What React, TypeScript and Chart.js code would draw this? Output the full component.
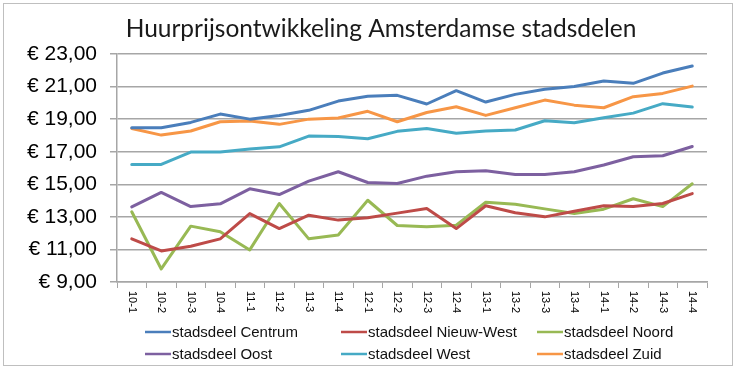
import React, { useEffect, useRef } from "react";
import { Chart, registerables } from "chart.js";

Chart.register(...registerables);

const categories = [
  "10-1", "10-2", "10-3", "10-4",
  "11-1", "11-2", "11-3", "11-4",
  "12-1", "12-2", "12-3", "12-4",
  "13-1", "13-2", "13-3", "13-4",
  "14-1", "14-2", "14-3", "14-4",
];

const centrum = [18.47, 18.47, 18.8, 19.31, 19.0, 19.23, 19.54, 20.11, 20.4, 20.46, 19.93, 20.75, 20.05, 20.52, 20.83, 21.0, 21.34, 21.2, 21.83, 22.26];
const nieuwWest = [11.65, 10.91, 11.2, 11.65, 13.2, 12.28, 13.1, 12.8, 12.94, 13.23, 13.51, 12.28, 13.68, 13.25, 13.0, 13.35, 13.68, 13.63, 13.82, 14.43];
const noord = [13.31, 9.8, 12.43, 12.08, 10.97, 13.82, 11.65, 11.89, 14.02, 12.47, 12.39, 12.49, 13.9, 13.78, 13.49, 13.2, 13.47, 14.11, 13.63, 15.03];
const oost = [13.61, 14.5, 13.63, 13.8, 14.72, 14.37, 15.19, 15.77, 15.11, 15.05, 15.5, 15.77, 15.83, 15.6, 15.6, 15.77, 16.18, 16.69, 16.75, 17.32];
const west = [16.22, 16.22, 16.98, 16.98, 17.16, 17.3, 17.96, 17.94, 17.8, 18.25, 18.43, 18.14, 18.27, 18.33, 18.9, 18.78, 19.09, 19.37, 19.95, 19.74];
const zuid = [18.43, 18.02, 18.27, 18.84, 18.88, 18.68, 19.0, 19.07, 19.48, 18.84, 19.41, 19.76, 19.23, 19.7, 20.17, 19.86, 19.7, 20.38, 20.58, 21.03];

const seriesNames = [
  "stadsdeel Centrum",
  "stadsdeel Nieuw-West",
  "stadsdeel Noord",
  "stadsdeel Oost",
  "stadsdeel West",
  "stadsdeel Zuid",
];
const seriesValues = [centrum, nieuwWest, noord, oost, west, zuid];
const seriesColors = ["#4a7ebb", "#be4b48", "#98b954", "#7d60a0", "#46aac5", "#f79646"];

const titleText = "Huurprijsontwikkeling Amsterdamse stadsdelen";
const yMin = 9;
const yMax = 23;
const yStep = 2;

const GRID = "#a6a6a6";

const decorPlugin = {
  id: "decor",
  beforeDraw(chart: any) {
    const ctx = chart.ctx;
    ctx.save();
    ctx.fillStyle = "#ffffff";
    ctx.fillRect(0, 0, chart.width, chart.height);
    ctx.strokeStyle = "#bfbfbf";
    ctx.lineWidth = 1;
    ctx.strokeRect(3.5, 3.5, 729, 362);
    ctx.restore();
  },
  afterDraw(chart: any) {
    const ctx = chart.ctx;
    const xs = chart.scales.x;
    ctx.save();
    // title
    ctx.fillStyle = "#1a1a1a";
    ctx.font = "24.5px 'Lato'";
    ctx.textAlign = "center";
    ctx.textBaseline = "middle";
    ctx.fillText(titleText, 381, 29);

    // rotated x labels
    ctx.font = "11px 'Liberation Sans'";
    ctx.fillStyle = "#000000";
    categories.forEach((c, i) => {
      const x = xs.getPixelForValue(i);
      ctx.save();
      ctx.translate(x, 291);
      ctx.rotate(Math.PI / 2);
      ctx.textAlign = "left";
      ctx.textBaseline = "middle";
      ctx.fillText(c, 0, 0);
      ctx.restore();
    });

    // legend
    const colX = [145, 341, 537];
    const rowY = [332, 354];
    ctx.font = "15px 'Liberation Sans'";
    ctx.textAlign = "left";
    ctx.textBaseline = "middle";
    chart.data.datasets.forEach((ds: any, i: number) => {
      const cx = colX[i % 3];
      const cy = rowY[Math.floor(i / 3)];
      ctx.strokeStyle = ds.borderColor;
      ctx.lineWidth = 2.5;
      ctx.beginPath();
      ctx.moveTo(cx, cy);
      ctx.lineTo(cx + 26, cy);
      ctx.stroke();
      ctx.fillStyle = "#111111";
      ctx.fillText(ds.label, cx + 27, cy + 1);
    });
    ctx.restore();
  },
};

export default function App() {
  const ref = useRef<HTMLCanvasElement | null>(null);

  useEffect(() => {
    if (!ref.current) return;
    const chart = new Chart(ref.current, {
      type: "line",
      data: {
        labels: categories,
        datasets: seriesNames.map((name, i) => ({
          label: name,
          data: seriesValues[i],
          borderColor: seriesColors[i],
          backgroundColor: seriesColors[i],
          borderWidth: 3,
          pointRadius: 0,
          tension: 0,
          borderJoinStyle: "round" as const,
          borderCapStyle: "round" as const,
        })),
      },
      options: {
        animation: false,
        responsive: true,
        maintainAspectRatio: false,
        layout: { padding: { top: 54, right: 33, bottom: 0, left: 0 } },
        plugins: {
          legend: { display: false },
          title: { display: false },
          tooltip: { enabled: false },
        },
        scales: {
          x: {
            type: "category",
            offset: true,
            grid: {
              offset: true,
              drawOnChartArea: false,
              drawTicks: true,
              tickLength: 6,
              color: GRID,
              lineWidth: 1,
            },
            border: { color: GRID, width: 1.5 },
            ticks: { display: false },
            afterFit(scale: any) {
              scale.height = 90;
            },
          },
          y: {
            min: yMin,
            max: yMax,
            ticks: {
              stepSize: yStep,
              color: "#000000",
              padding: 13,
              font: { family: "'Liberation Sans'", size: 21 },
              callback: (v: any) => "€ " + Number(v).toFixed(2).replace(".", ","),
            },
            grid: { color: GRID, lineWidth: 1.5, tickLength: 7 },
            border: { color: GRID, width: 1.5 },
            afterFit(scale: any) {
              scale.width = 117;
            },
          },
        },
      },
      plugins: [decorPlugin],
    });
    return () => chart.destroy();
  }, []);

  return (
    <div style={{ position: "fixed", left: 0, top: 0, width: 740, height: 372, background: "#fff" }}>
      <canvas ref={ref} />
    </div>
  );
}
